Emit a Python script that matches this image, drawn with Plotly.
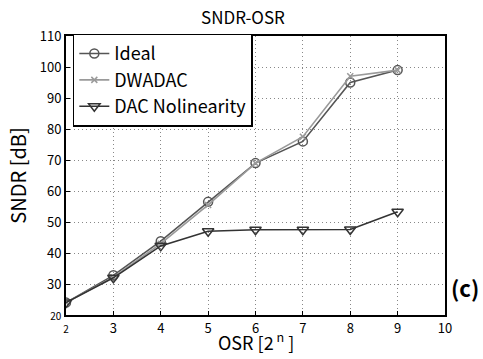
import plotly.graph_objects as go

osr = [2, 3, 4, 5, 6, 7, 8, 9]
ideal = [24, 32.8, 43.8, 56.5, 69, 76, 95, 99]
dwadac = [24, 32.2, 43, 55.5, 69, 77.5, 97, 99]
dac_nonlin = [24, 32, 42.3, 47, 47.5, 47.5, 47.6, 53.3]

x_ticks = [2, 3, 4, 5, 6, 7, 8, 9, 10]
y_ticks = [20, 30, 40, 50, 60, 70, 80, 90, 100, 110]

FONT = "Noto Sans CJK JP, sans-serif"

fig = go.Figure()
fig.add_trace(go.Scatter(x=osr, y=ideal, name="Ideal", mode="lines+markers",
                         line=dict(color="#555555", width=1.6),
                         marker=dict(symbol="circle-open", size=9, color="#555555", line=dict(width=1.5))))
fig.add_trace(go.Scatter(x=osr, y=dwadac, name="DWADAC", mode="lines+markers",
                         line=dict(color="#9a9a9a", width=1.6),
                         marker=dict(symbol="x-thin-open", size=6, color="#9a9a9a", line=dict(width=1.5))))
fig.add_trace(go.Scatter(x=osr, y=dac_nonlin, name="DAC Nolinearity", mode="lines+markers",
                         line=dict(color="#333333", width=1.6),
                         marker=dict(symbol="triangle-down-open", size=10, color="#333333", line=dict(width=1.5))))

xt = [("<span style='font-size:10px'>%d</span>" % v) if v == 2 else str(v) for v in x_ticks]
yt = [("<span style='font-size:10px'>%d</span>" % v) if v == 20 else str(v) for v in y_ticks]

fig.update_layout(
    width=483, height=359,
    margin=dict(l=66, r=38, t=36, b=44),
    paper_bgcolor="white", plot_bgcolor="white",
    font=dict(family=FONT, color="black", size=13),
    title=dict(text="SNDR-OSR", x=0.503, xanchor="center", y=0.95, yanchor="middle",
               font=dict(size=17, family=FONT)),
    xaxis=dict(range=[2, 10], tickvals=x_ticks, ticktext=xt, showgrid=True,
               gridcolor="#888888", griddash="1px,3px", gridwidth=1,
               showline=True, linecolor="black", linewidth=2, mirror=True,
               ticks="inside", ticklen=4, tickcolor="black", zeroline=False,
               automargin=False),
    yaxis=dict(range=[20, 110], tickvals=y_ticks, ticktext=yt, showgrid=True,
               gridcolor="#888888", griddash="1px,3px", gridwidth=1,
               showline=True, linecolor="black", linewidth=2, mirror=True,
               ticks="inside", ticklen=4, tickcolor="black", zeroline=False,
               automargin=False,
               title=dict(text="SNDR [dB]", font=dict(size=20), standoff=8)),
    legend=dict(x=0.018, y=1.008, xanchor="left", yanchor="top",
                bgcolor="white", bordercolor="black", borderwidth=1.5,
                font=dict(size=18, family=FONT), tracegroupgap=0),
    showlegend=True,
)
fig.add_annotation(text="OSR [2<sup> n</sup> ]", x=0.5, y=-0.152, xref="paper", yref="paper",
                   xanchor="center", yanchor="bottom", showarrow=False,
                   font=dict(size=18, family=FONT))
fig.add_annotation(text="<b>(c)</b>", x=1.01, y=0.10, xref="paper", yref="paper",
                   xanchor="left", yanchor="middle", showarrow=False,
                   font=dict(size=22, family=FONT))

fig.write_html("out.html")
